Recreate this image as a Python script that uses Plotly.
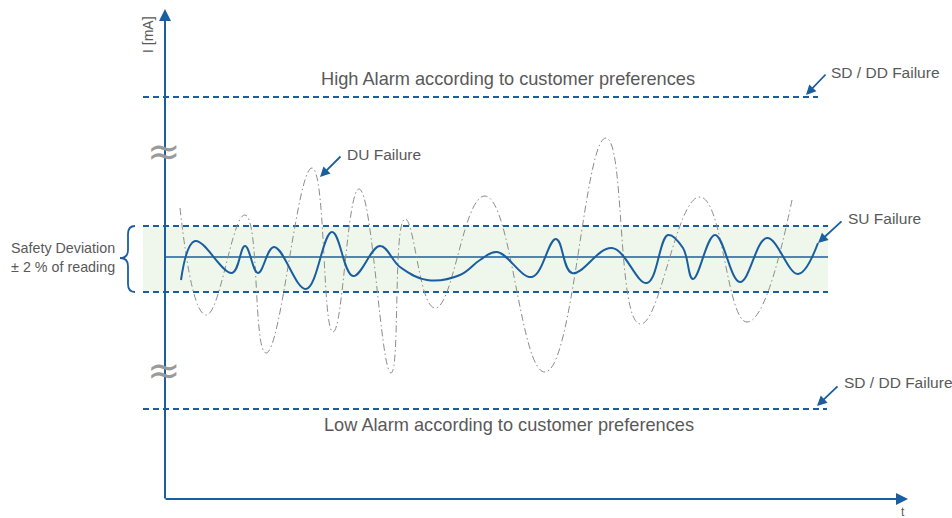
import plotly.graph_objects as go

# ---- data (pixel-space schematic values) ----
su_x = [181, 195, 232, 245, 258, 274, 306, 332, 353, 380, 400, 427, 460, 480, 497, 532, 556, 572, 612, 647, 668, 683, 693, 715, 740, 767, 798, 818]
su_y = [280, 241, 273, 246, 273, 247, 289, 232, 276, 246, 267, 280, 275, 260, 252, 277, 239, 273, 248, 283, 235, 248, 279, 235, 282, 238, 274, 243]

du_x = [180, 206, 245, 266, 312, 333, 359, 391, 405, 435, 485, 545, 606, 640, 700, 747, 792]
du_y = [208, 315, 215, 353, 168, 332, 189, 373, 219, 308, 196, 372, 138, 324, 197, 322, 200]

band_top, band_bottom, band_center = 226, 292, 257
high_alarm, low_alarm = 97, 409

high_text = "High Alarm according to customer preferences"
low_text = "Low Alarm according to customer preferences"
band_text = "Safety Deviation<br>± 2 % of reading"
y_label = "I [mA]"
x_label = "t"

failures = ["DU Failure", "SD / DD Failure", "SU Failure", "SD / DD Failure"]

BLUE = "#1b5e9f"
GREY_TXT = "#595959"
FONT = "Liberation Sans, Arial, sans-serif"

fig = go.Figure()

# band fill
fig.add_shape(type="rect", x0=143, x1=828, y0=band_top, y1=band_bottom,
              fillcolor="#eff7ec", line_width=0, layer="below")

def hline(y, x0, x1, dash, width=1.8, color=BLUE):
    fig.add_trace(go.Scatter(x=[x0, x1], y=[y, y], mode="lines",
                             line=dict(color=color, width=width, dash=dash),
                             hoverinfo="skip", showlegend=False))

DASH = "6px,4px"
hline(band_top, 143, 828, DASH)
hline(band_bottom, 143, 828, DASH)
hline(band_center, 164, 828, "solid", width=1.6)
hline(high_alarm, 143, 818, DASH)
hline(low_alarm, 143, 827, DASH)

# DU curve (grey dash-dot)
fig.add_trace(go.Scatter(x=du_x, y=du_y, mode="lines",
                         line=dict(color="#8c8c8c", width=1, shape="spline", smoothing=1.3,
                                   dash="7px,3px,1.5px,3px"),
                         hoverinfo="skip", showlegend=False))
# SU curve (blue)
fig.add_trace(go.Scatter(x=su_x, y=su_y, mode="lines",
                         line=dict(color=BLUE, width=2, shape="spline", smoothing=1.1),
                         hoverinfo="skip", showlegend=False))

# brace
bx_tip, bx_mid, bx_end = 120, 128, 135
brace = (f"M {bx_end},{band_top} Q {bx_mid},{band_top} {bx_mid},{band_top+8} "
         f"L {bx_mid},{band_center-7} Q {bx_mid},{band_center+1} {bx_tip},{band_center+1} "
         f"Q {bx_mid},{band_center+1} {bx_mid},{band_center+9} "
         f"L {bx_mid},{band_bottom-8} Q {bx_mid},{band_bottom} {bx_end},{band_bottom}")
fig.add_shape(type="path", path=brace, line=dict(color=BLUE, width=1.8))

ann = []
# axes arrows
ann.append(dict(x=165, y=9, ax=165, ay=500, axref="x", ayref="y", xref="x", yref="y",
                showarrow=True, arrowhead=2, arrowsize=1.2, arrowwidth=2, arrowcolor=BLUE, text=""))
ann.append(dict(x=908, y=499, ax=164, ay=499, axref="x", ayref="y", xref="x", yref="y",
                showarrow=True, arrowhead=2, arrowsize=1.2, arrowwidth=2, arrowcolor=BLUE, text=""))
# axis labels
ann.append(dict(x=148, y=35, text=y_label, textangle=-90, showarrow=False,
                font=dict(size=14, color=GREY_TXT, family=FONT)))
ann.append(dict(x=903, y=512, text=x_label, showarrow=False,
                font=dict(size=12, color=GREY_TXT, family=FONT)))
# break marks
for yb in (151, 370):
    ann.append(dict(x=164, y=yb, text="≈", showarrow=False,
                    font=dict(size=40, color="#9a9a9a", family="DejaVu Sans")))
# alarm texts
ann.append(dict(x=508, y=79, text=high_text, showarrow=False,
                font=dict(size=18.2, color=GREY_TXT, family=FONT)))
ann.append(dict(x=509, y=425, text=low_text, showarrow=False,
                font=dict(size=18.2, color=GREY_TXT, family=FONT)))
# band text
ann.append(dict(x=117, y=257, text=band_text, showarrow=False, xanchor="right", align="right",
                font=dict(size=14.3, color=GREY_TXT, family=FONT)))

# failure callouts: (text_x, text_y, tail_x, tail_y, tip_x, tip_y)
callouts = [(345, 154, 342, 155, 320, 177),
            (829, 72, 827, 73, 806, 95),
            (846, 218, 843, 220, 818, 243),
            (842, 382, 839, 385, 817, 406)]
for name, (tx, ty, axx, ayy, px, py) in zip(failures, callouts):
    ann.append(dict(x=tx, y=ty, text=name, showarrow=False, xanchor="left",
                    font=dict(size=15.5, color=GREY_TXT, family=FONT)))
    ann.append(dict(x=px, y=py, ax=axx, ay=ayy, axref="x", ayref="y", xref="x", yref="y",
                    showarrow=True, arrowhead=2, arrowsize=1.1, arrowwidth=1.8,
                    arrowcolor=BLUE, text=""))

fig.update_layout(
    width=952, height=518,
    margin=dict(l=0, r=0, t=0, b=0),
    paper_bgcolor="white", plot_bgcolor="white",
    xaxis=dict(range=[0, 952], visible=False, fixedrange=True),
    yaxis=dict(range=[518, 0], visible=False, fixedrange=True),
    annotations=ann,
    showlegend=False,
)

fig.write_html("out.html", config={"displayModeBar": False, "staticPlot": True},
               post_script="document.body.style.margin='0';document.body.style.overflow='hidden';")
